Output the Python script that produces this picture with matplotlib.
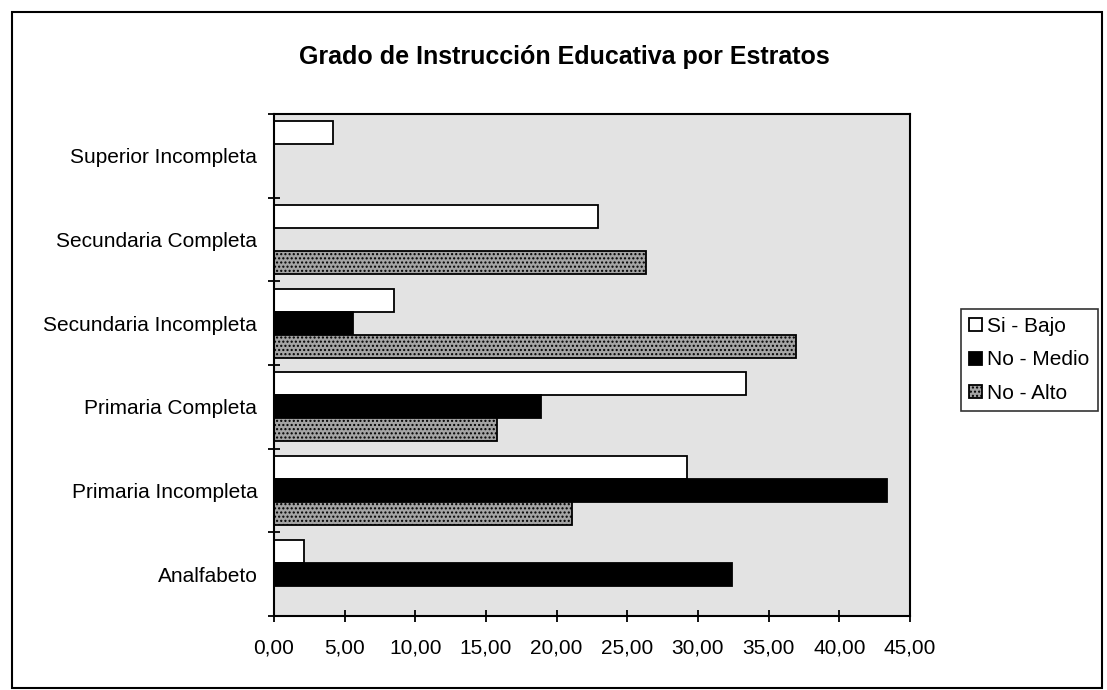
import matplotlib.pyplot as plt
from matplotlib.patches import Rectangle
import numpy as np

plt.rcParams['font.family'] = ['Liberation Sans', 'DejaVu Sans']

# Datos (de abajo hacia arriba, como en el grafico)
categorias = ['Analfabeto', 'Primaria Incompleta', 'Primaria Completa',
              'Secundaria Incompleta', 'Secundaria Completa', 'Superior Incompleta']
si_bajo = [2.1, 29.2, 33.4, 8.5, 22.9, 4.2]
no_medio = [32.4, 43.4, 18.9, 5.6, 0.0, 0.0]
no_alto = [0.0, 21.1, 15.8, 36.9, 26.3, 0.0]
series = ['Si - Bajo', 'No - Medio', 'No - Alto']
xticks = [0, 5, 10, 15, 20, 25, 30, 35, 40, 45]

fig = plt.figure(figsize=(11.07, 6.9), dpi=100)
ax = fig.add_axes([274 / 1107, 1 - 616 / 690, 636 / 1107, 502 / 690])
ax.set_facecolor('#e3e3e3')

y = np.arange(len(categorias))
h = 0.275

b1 = ax.barh(y + h, si_bajo, height=h, color='white', edgecolor='black', linewidth=1.3)
b2 = ax.barh(y, no_medio, height=h, color='black', edgecolor='black', linewidth=1.3)
b3 = ax.barh(y - h, no_alto, height=h, color='#a4a4a4', edgecolor='black',
             linewidth=1.3, hatch='....')

ax.set_xlim(0, 45)
ax.set_ylim(-0.5, len(categorias) - 0.5)
ax.set_xticks(xticks)
# etiquetas con coma decimal
ax.set_xticklabels([('%.2f' % v).replace('.', ',') for v in xticks])
ax.set_yticks(y)
ax.set_yticklabels(categorias)
ax.set_yticks(np.arange(len(categorias) + 1) - 0.5, minor=True)
ax.tick_params(axis='y', which='major', length=0, pad=12, labelsize=15)
ax.tick_params(axis='y', which='minor', length=9, direction='inout', width=1.3)
ax.tick_params(axis='x', length=9, direction='inout', width=1.3, pad=12, labelsize=15)
for s in ax.spines.values():
    s.set_linewidth(1.5)

fig.text(564 / 1107, 1 - 57 / 690, 'Grado de Instrucción Educativa por Estratos',
         ha='center', va='center', fontsize=18, fontweight='bold')

leg = fig.legend([b1, b2, b3], series, loc='center left',
                 bbox_to_anchor=(961 / 1107, 1 - 360 / 690), fontsize=15,
                 frameon=True, fancybox=False, edgecolor='black',
                 handlelength=0.6, handleheight=0.6, handletextpad=0.25,
                 borderpad=0.4, labelspacing=0.7, borderaxespad=0)
leg.get_frame().set_linewidth(1.2)

fig.patches.append(Rectangle((12 / 1107, 2 / 690), 1090 / 1107, 676 / 690,
                             transform=fig.transFigure, fill=False,
                             edgecolor='black', linewidth=1.5))

fig.savefig('out.png', dpi=100)
